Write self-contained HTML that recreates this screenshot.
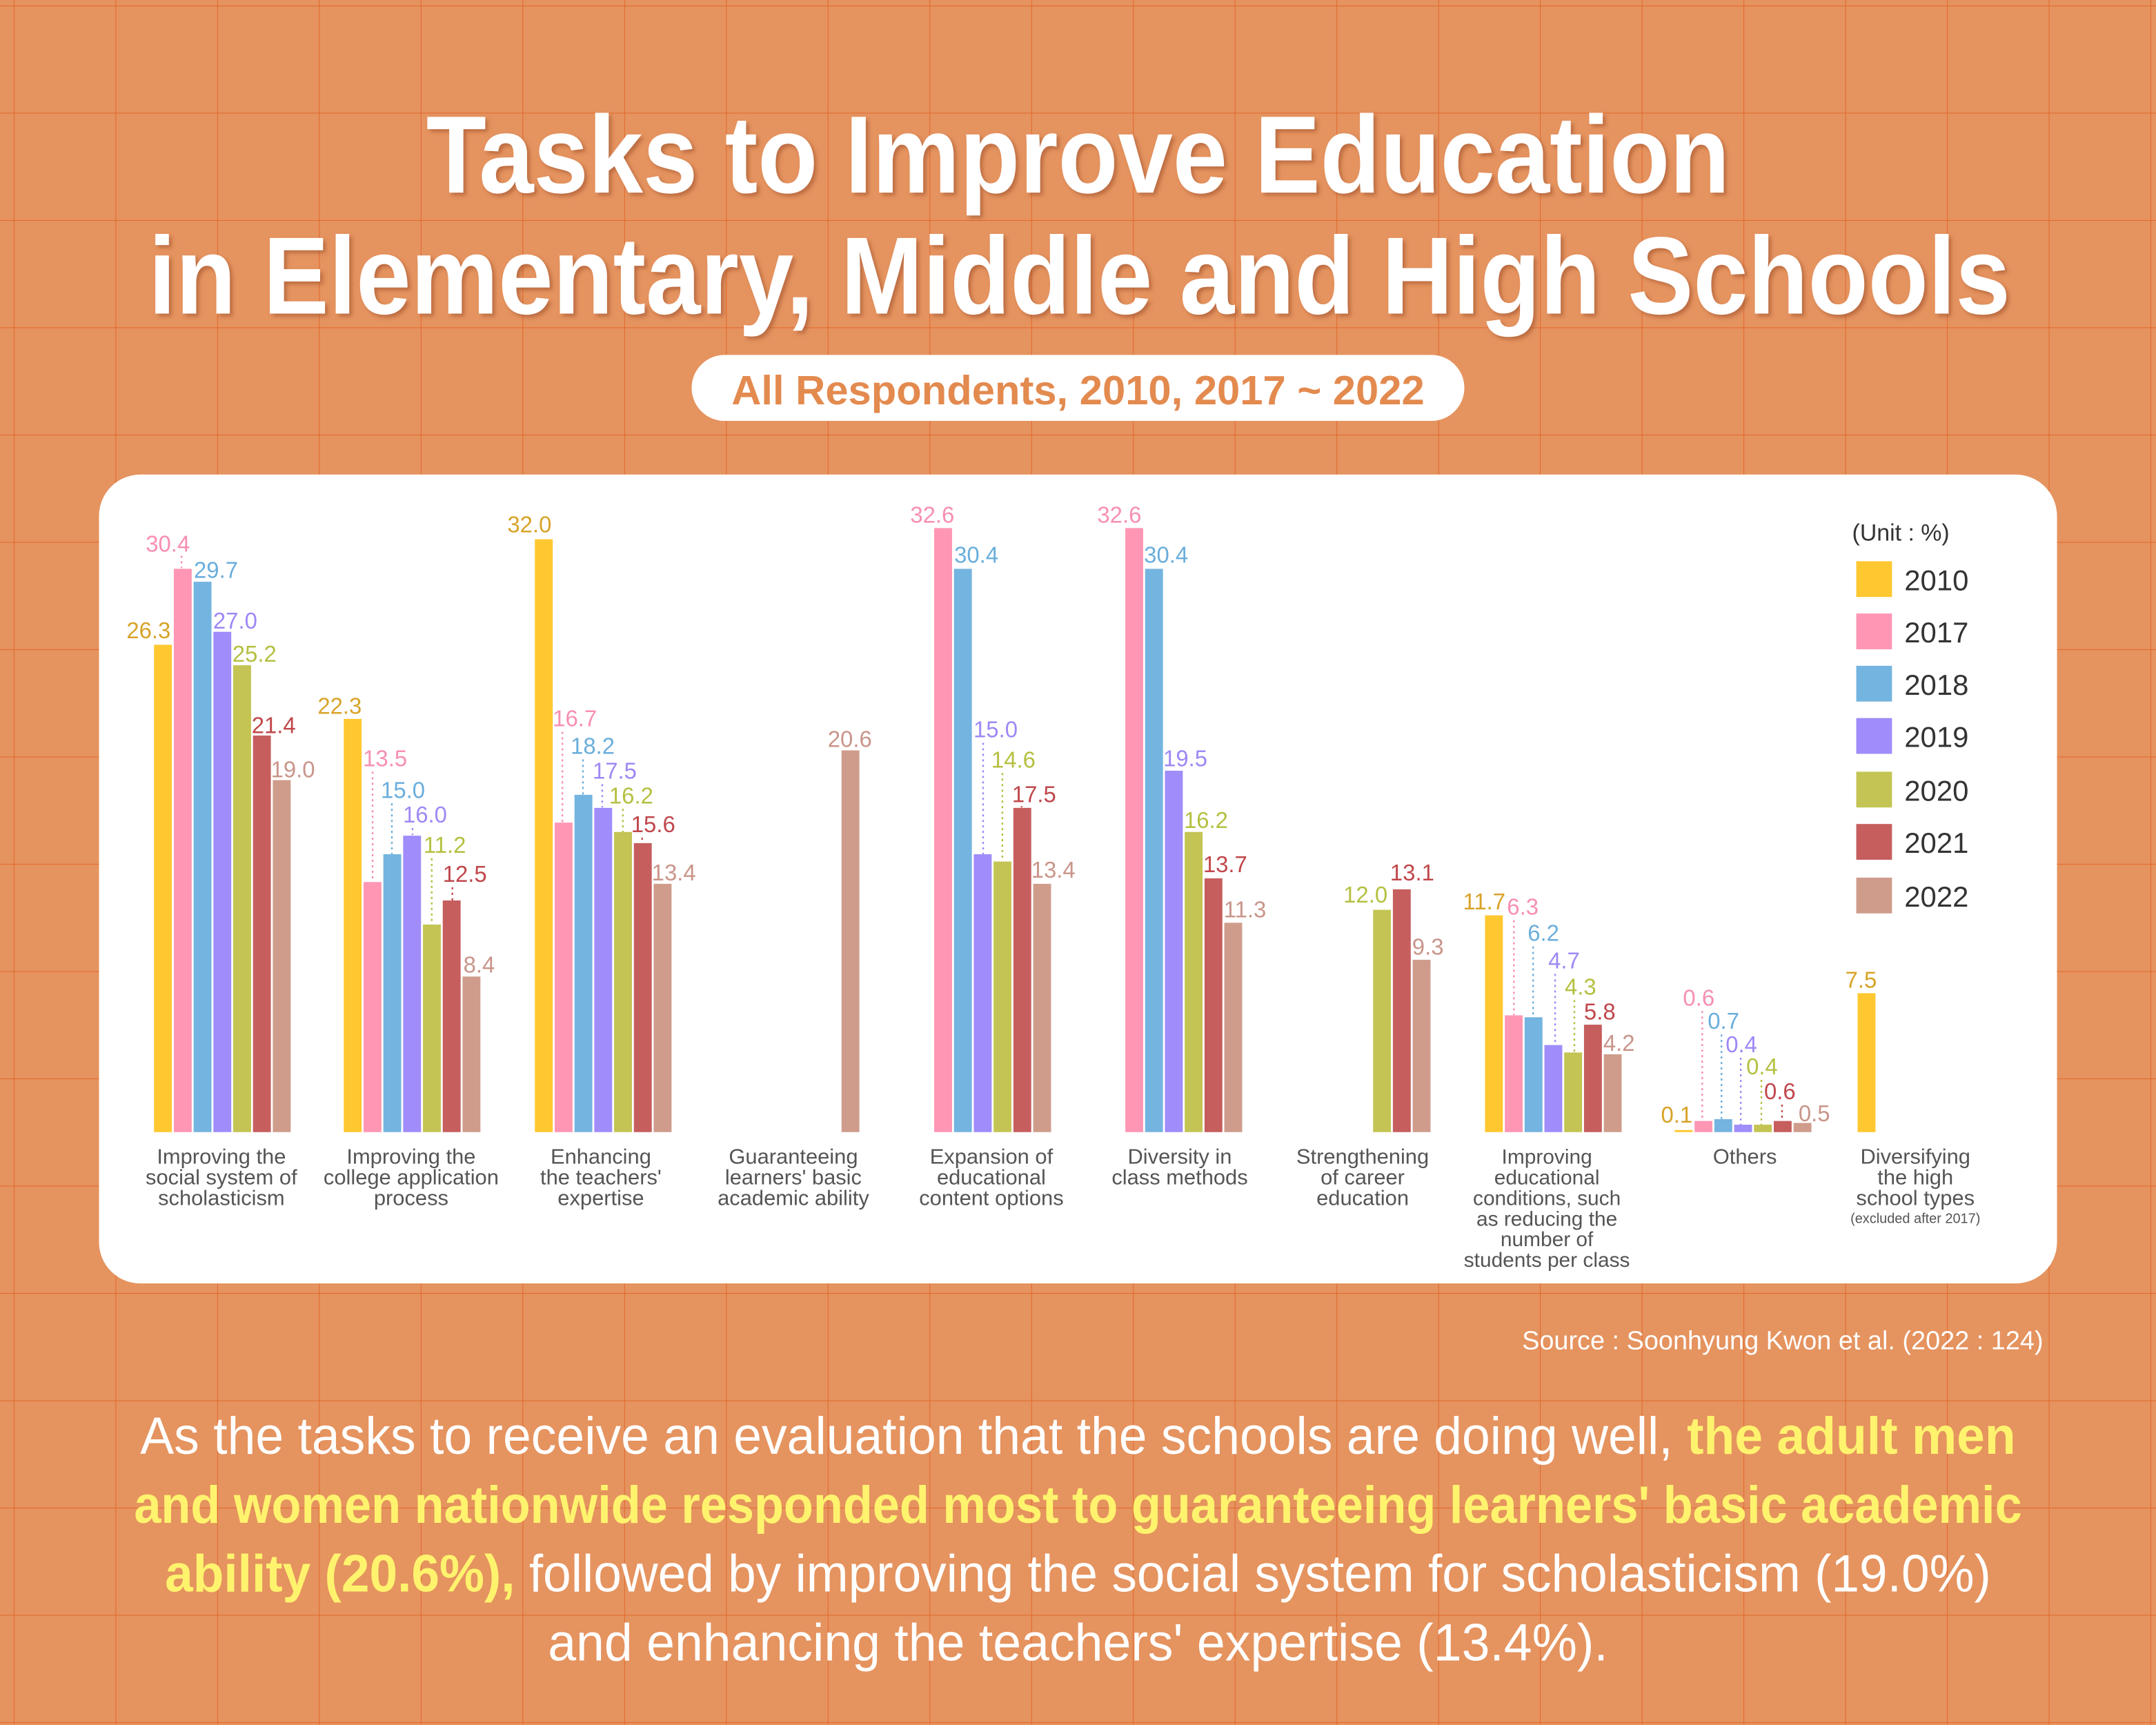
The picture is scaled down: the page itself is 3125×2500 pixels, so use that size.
<!DOCTYPE html>
<html><head><meta charset="utf-8"><style>html,body{margin:0;padding:0;background:#e5935f}svg{display:block}</style></head>
<body>
<svg xmlns="http://www.w3.org/2000/svg" width="3125" height="2500" viewBox="0 0 1568 1254" preserveAspectRatio="none">
<defs>
<pattern id="g" x="10" y="4" width="74" height="78" patternUnits="userSpaceOnUse">
<path d="M0 0V78M0 0H74" stroke="#e2672c" stroke-width="1" fill="none"/>
</pattern>
<filter id="sh"><feDropShadow dx="2" dy="2" stdDeviation="1.5" flood-color="#a0522d" flood-opacity="0.6"/></filter>
</defs>
<rect width="1568" height="1254" fill="#e5935f"/>
<rect width="1568" height="1254" fill="url(#g)"/>

<g font-family="Liberation Sans, sans-serif" font-weight="bold" fill="#fff" text-anchor="middle" filter="url(#sh)">
<text x="784" y="140" font-size="80" textLength="948" lengthAdjust="spacingAndGlyphs">Tasks to Improve Education</text>
<text x="785" y="228" font-size="80" textLength="1354" lengthAdjust="spacingAndGlyphs">in Elementary, Middle and High Schools</text>
</g>
<rect x="503" y="258" width="562" height="48" rx="24" fill="#fff"/>
<text x="784" y="294" font-family="Liberation Sans, sans-serif" font-weight="bold" font-size="30" fill="#e38a4f" text-anchor="middle" textLength="504" lengthAdjust="spacingAndGlyphs">All Respondents, 2010, 2017 ~ 2022</text>

<rect x="72" y="345" width="1424" height="588" rx="30" fill="#fff"/>

<g>
<rect x="112" y="468.7" width="13" height="354.3" fill="#ffc830"/>
<rect x="126.4" y="413.5" width="13" height="409.5" fill="#ff96b4"/>
<rect x="140.8" y="422.9" width="13" height="400.1" fill="#74b4e0"/>
<rect x="155.2" y="459.3" width="13" height="363.7" fill="#a08cfa"/>
<rect x="169.6" y="483.6" width="13" height="339.4" fill="#c4c454"/>
<rect x="184" y="534.7" width="13" height="288.3" fill="#c65e5e"/>
<rect x="198.4" y="567.1" width="13" height="255.9" fill="#cf9c8c"/>

<rect x="250" y="522.6" width="13" height="300.4" fill="#ffc830"/>
<rect x="264.4" y="641.2" width="13" height="181.8" fill="#ff96b4"/>
<rect x="278.8" y="621" width="13" height="202" fill="#74b4e0"/>
<rect x="293.2" y="607.5" width="13" height="215.5" fill="#a08cfa"/>
<rect x="307.6" y="672.1" width="13" height="150.9" fill="#c4c454"/>
<rect x="322" y="654.6" width="13" height="168.4" fill="#c65e5e"/>
<rect x="336.4" y="709.9" width="13" height="113.1" fill="#cf9c8c"/>

<rect x="389" y="392" width="13" height="431" fill="#ffc830"/>
<rect x="403.4" y="598" width="13" height="225" fill="#ff96b4"/>
<rect x="417.8" y="577.8" width="13" height="245.2" fill="#74b4e0"/>
<rect x="432.2" y="587.3" width="13" height="235.7" fill="#a08cfa"/>
<rect x="446.6" y="604.8" width="13" height="218.2" fill="#c4c454"/>
<rect x="461" y="612.9" width="13" height="210.1" fill="#c65e5e"/>
<rect x="475.4" y="642.5" width="13" height="180.5" fill="#cf9c8c"/>

<rect x="612" y="545.5" width="13" height="277.5" fill="#cf9c8c"/>

<rect x="679.4" y="383.9" width="13" height="439.1" fill="#ff96b4"/>
<rect x="693.8" y="413.5" width="13" height="409.5" fill="#74b4e0"/>
<rect x="708.2" y="621" width="13" height="202" fill="#a08cfa"/>
<rect x="722.6" y="626.3" width="13" height="196.7" fill="#c4c454"/>
<rect x="737" y="587.3" width="13" height="235.7" fill="#c65e5e"/>
<rect x="751.4" y="642.5" width="13" height="180.5" fill="#cf9c8c"/>

<rect x="818.4" y="383.9" width="13" height="439.1" fill="#ff96b4"/>
<rect x="832.8" y="413.5" width="13" height="409.5" fill="#74b4e0"/>
<rect x="847.2" y="560.3" width="13" height="262.7" fill="#a08cfa"/>
<rect x="861.6" y="604.8" width="13" height="218.2" fill="#c4c454"/>
<rect x="876" y="638.5" width="13" height="184.5" fill="#c65e5e"/>
<rect x="890.4" y="670.8" width="13" height="152.2" fill="#cf9c8c"/>

<rect x="998.6" y="661.4" width="13" height="161.6" fill="#c4c454"/>
<rect x="1013" y="646.5" width="13" height="176.5" fill="#c65e5e"/>
<rect x="1027.4" y="697.7" width="13" height="125.3" fill="#cf9c8c"/>

<rect x="1080" y="665.4" width="13" height="157.6" fill="#ffc830"/>
<rect x="1094.4" y="738.1" width="13" height="84.9" fill="#ff96b4"/>
<rect x="1108.8" y="739.5" width="13" height="83.5" fill="#74b4e0"/>
<rect x="1123.2" y="759.7" width="13" height="63.3" fill="#a08cfa"/>
<rect x="1137.6" y="765.1" width="13" height="57.9" fill="#c4c454"/>
<rect x="1152" y="744.9" width="13" height="78.1" fill="#c65e5e"/>
<rect x="1166.4" y="766.4" width="13" height="56.6" fill="#cf9c8c"/>

<rect x="1218" y="821.5" width="13" height="1.5" fill="#ffc830"/>
<rect x="1232.4" y="814.9" width="13" height="8.1" fill="#ff96b4"/>
<rect x="1246.8" y="813.6" width="13" height="9.4" fill="#74b4e0"/>
<rect x="1261.2" y="817.6" width="13" height="5.4" fill="#a08cfa"/>
<rect x="1275.6" y="817.6" width="13" height="5.4" fill="#c4c454"/>
<rect x="1290" y="814.9" width="13" height="8.1" fill="#c65e5e"/>
<rect x="1304.4" y="816.3" width="13" height="6.7" fill="#cf9c8c"/>

<rect x="1351" y="722" width="13" height="101" fill="#ffc830"/>
</g>

<g stroke-width="1.2" stroke-dasharray="1.5 2.5" fill="none">
<path d="M132 404V413" stroke="#f78fb0"/>
<path d="M271 561V641" stroke="#f78fb0"/>
<path d="M285 584V621" stroke="#6aaedc"/>
<path d="M300 602V607" stroke="#9f88f5"/>
<path d="M314 624V672" stroke="#b5c040"/>
<path d="M329 645V655" stroke="#c0474b"/>
<path d="M409 532V598" stroke="#f78fb0"/>
<path d="M424 552V578" stroke="#6aaedc"/>
<path d="M438 570V587" stroke="#9f88f5"/>
<path d="M453 588V605" stroke="#b5c040"/>
<path d="M467 609V613" stroke="#c0474b"/>
<path d="M715 540V621" stroke="#9f88f5"/>
<path d="M729 562V626" stroke="#b5c040"/>
<path d="M743 586V587" stroke="#c0474b"/>
<path d="M1101 669V738" stroke="#f78fb0"/>
<path d="M1115 688V739" stroke="#6aaedc"/>
<path d="M1131 708V760" stroke="#9f88f5"/>
<path d="M1145 727V765" stroke="#b5c040"/>
<path d="M1238 735V815" stroke="#f78fb0"/>
<path d="M1252 752V814" stroke="#6aaedc"/>
<path d="M1266 769V818" stroke="#9f88f5"/>
<path d="M1281 785V818" stroke="#b5c040"/>
<path d="M1296 803V815" stroke="#c0474b"/>
</g>

<g font-family="Liberation Sans, sans-serif" font-size="16.5">
<g fill="#d8a328">
<text x="92" y="464">26.3</text><text x="231" y="519">22.3</text><text x="369" y="387">32.0</text>
<text x="977" y="656" fill="#b5c040">12.0</text>
<text x="1064" y="661">11.7</text><text x="1208" y="816">0.1</text><text x="1342" y="718">7.5</text>
</g>
<g fill="#f78fb0">
<text x="106" y="401">30.4</text><text x="264" y="557">13.5</text><text x="402" y="528">16.7</text>
<text x="662" y="380">32.6</text><text x="798" y="380">32.6</text><text x="1096" y="665">6.3</text><text x="1224" y="731">0.6</text>
</g>
<g fill="#6aaedc">
<text x="141" y="420">29.7</text><text x="277" y="580">15.0</text><text x="415" y="548">18.2</text>
<text x="694" y="409">30.4</text><text x="832" y="409">30.4</text><text x="1111" y="684">6.2</text><text x="1242" y="748">0.7</text>
</g>
<g fill="#9f88f5">
<text x="155" y="457">27.0</text><text x="293" y="598">16.0</text><text x="431" y="566">17.5</text>
<text x="708" y="536">15.0</text><text x="846" y="557">19.5</text><text x="1126" y="704">4.7</text><text x="1255" y="765">0.4</text>
</g>
<g fill="#b5c040">
<text x="169" y="481">25.2</text><text x="308" y="620">11.2</text><text x="443" y="584">16.2</text>
<text x="721" y="558">14.6</text><text x="861" y="602">16.2</text><text x="1138" y="723">4.3</text><text x="1270" y="781">0.4</text>
</g>
<g fill="#c0474b">
<text x="183" y="533">21.4</text><text x="322" y="641">12.5</text><text x="459" y="605">15.6</text>
<text x="736" y="583">17.5</text><text x="875" y="634">13.7</text><text x="1011" y="640">13.1</text><text x="1152" y="741">5.8</text><text x="1283" y="799">0.6</text>
</g>
<g fill="#c9958a">
<text x="197" y="565">19.0</text><text x="337" y="707">8.4</text><text x="474" y="640">13.4</text>
<text x="602" y="543">20.6</text><text x="750" y="638">13.4</text><text x="890" y="667">11.3</text><text x="1027" y="694">9.3</text><text x="1166" y="764">4.2</text><text x="1308" y="815">0.5</text>
</g>
</g>

<g font-family="Liberation Sans, sans-serif" font-size="15.5" fill="#555" text-anchor="middle">
<text x="161" y="846">Improving the</text><text x="161" y="861">social system of</text><text x="161" y="876">scholasticism</text>
<text x="299" y="846">Improving the</text><text x="299" y="861">college application</text><text x="299" y="876">process</text>
<text x="437" y="846">Enhancing</text><text x="437" y="861">the teachers'</text><text x="437" y="876">expertise</text>
<text x="577" y="846">Guaranteeing</text><text x="577" y="861">learners' basic</text><text x="577" y="876">academic ability</text>
<text x="721" y="846">Expansion of</text><text x="721" y="861">educational</text><text x="721" y="876">content options</text>
<text x="858" y="846">Diversity in</text><text x="858" y="861">class methods</text>
<text x="991" y="846">Strengthening</text><text x="991" y="861">of career</text><text x="991" y="876">education</text>
<g font-size="15">
<text x="1125" y="846">Improving</text><text x="1125" y="861">educational</text><text x="1125" y="876">conditions, such</text><text x="1125" y="891">as reducing the</text><text x="1125" y="906">number of</text><text x="1125" y="921">students per class</text>
</g>
<text x="1269" y="846">Others</text>
<text x="1393" y="846">Diversifying</text><text x="1393" y="861">the high</text><text x="1393" y="876">school types</text>
<text x="1393" y="889" font-size="10">(excluded after 2017)</text>
</g>

<g font-family="Liberation Sans, sans-serif" fill="#333">
<text x="1347" y="393" font-size="17">(Unit : %)</text>
<rect x="1350" y="408" width="26" height="26" fill="#ffc830"/><text x="1385" y="429" font-size="21">2010</text>
<rect x="1350" y="446" width="26" height="26" fill="#ff96b4"/><text x="1385" y="467" font-size="21">2017</text>
<rect x="1350" y="484" width="26" height="26" fill="#74b4e0"/><text x="1385" y="505" font-size="21">2018</text>
<rect x="1350" y="522" width="26" height="26" fill="#a08cfa"/><text x="1385" y="543" font-size="21">2019</text>
<rect x="1350" y="561" width="26" height="26" fill="#c4c454"/><text x="1385" y="582" font-size="21">2020</text>
<rect x="1350" y="599" width="26" height="26" fill="#c65e5e"/><text x="1385" y="620" font-size="21">2021</text>
<rect x="1350" y="638" width="26" height="26" fill="#cf9c8c"/><text x="1385" y="659" font-size="21">2022</text>
</g>

<text x="1486" y="981" font-family="Liberation Sans, sans-serif" font-size="19" fill="#fff" text-anchor="end">Source : Soonhyung Kwon et al. (2022 : 124)</text>

<g font-family="Liberation Sans, sans-serif" font-size="38" fill="#fff" text-anchor="middle">
<text x="784" y="1057" textLength="1364" lengthAdjust="spacingAndGlyphs">As the tasks to receive an evaluation that the schools are doing well, <tspan fill="#fff36e" font-weight="bold">the adult men</tspan></text>
<text x="784" y="1107" textLength="1373" lengthAdjust="spacingAndGlyphs" fill="#fff36e" font-weight="bold">and women nationwide responded most to guaranteeing learners' basic academic</text>
<text x="784" y="1157" textLength="1328" lengthAdjust="spacingAndGlyphs"><tspan fill="#fff36e" font-weight="bold">ability (20.6%),</tspan> followed by improving the social system for scholasticism (19.0%)</text>
<text x="784" y="1207" textLength="771" lengthAdjust="spacingAndGlyphs">and enhancing the teachers' expertise (13.4%).</text>
</g>
</svg>
</body></html>
